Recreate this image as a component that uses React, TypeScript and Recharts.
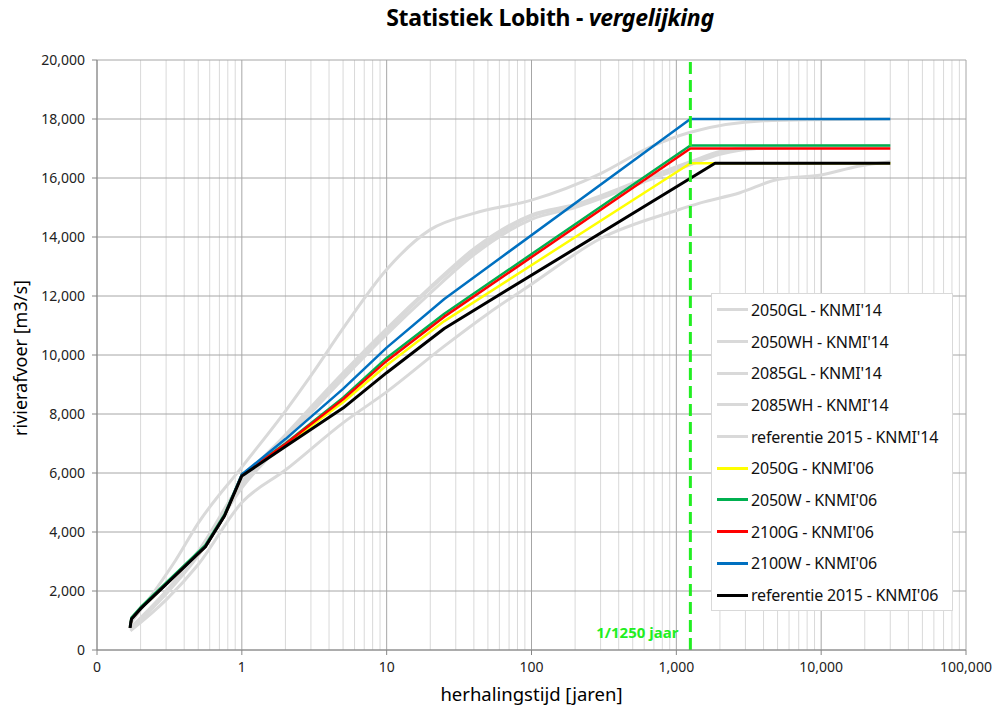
import React from 'react';
import { LineChart, Line, XAxis, YAxis, CartesianGrid, ReferenceLine, Legend, Label } from 'recharts';

// ---------- data ----------
// KNMI'14 scenarios (grey)
const gl2050X = [0.17, 0.3, 0.5, 1, 2, 5, 10, 20, 40, 100, 200, 660, 1250, 2000, 3600, 30000];
const gl2050Y = [700, 1900, 3200, 5500, 7100, 9200, 10700, 12100, 13400, 14600, 15000, 15950, 16450, 16800, 17000, 17050];
const wh2050X = [0.17, 0.3, 0.5, 1, 2, 5, 10, 20, 40, 100, 200, 660, 1250, 2000, 3600, 30000];
const wh2050Y = [750, 2000, 3350, 5700, 7300, 9400, 10900, 12300, 13600, 14750, 15100, 16050, 16550, 16900, 17050, 17100];
const gl2085X = [0.17, 0.3, 0.5, 1, 2, 5, 10, 20, 40, 100, 200, 660, 1250, 2000, 3600, 30000];
const gl2085Y = [720, 1950, 3300, 5600, 7200, 9300, 10800, 12250, 13500, 14700, 15050, 16000, 16500, 16850, 17000, 17080];
const wh2085X = [0.17, 0.25, 0.35, 0.5, 1, 2, 3, 5, 10, 20, 40, 100, 300, 660, 1250, 4600, 30000];
const wh2085Y = [900, 2000, 3050, 4300, 6200, 8100, 9300, 10900, 12900, 14250, 14800, 15250, 16150, 17050, 17550, 17950, 18000];
const ref14X = [0.17, 0.3, 0.5, 1, 2, 5, 10, 25, 50, 100, 300, 1000, 1450, 2750, 5000, 10000, 18000, 30000];
const ref14Y = [650, 1700, 2900, 5000, 6100, 7700, 8750, 10300, 11400, 12400, 13950, 14900, 15150, 15500, 15950, 16100, 16400, 16550];

// KNMI'06 scenarios (colour)
const g2050X = [0.169, 0.173, 0.2, 0.56, 0.76, 1, 2, 5, 10, 25, 1250, 30000];
const g2050Y = [750, 1050, 1400, 3500, 4550, 5920, 6950, 8400, 9650, 11150, 16500, 16500];
const w2050X = [0.169, 0.173, 0.2, 0.56, 0.76, 1, 2, 5, 10, 25, 1250, 30000];
const w2050Y = [800, 1100, 1450, 3550, 4600, 5950, 7000, 8550, 9900, 11400, 17100, 17100];
const g2100X = [0.169, 0.173, 0.2, 0.56, 0.76, 1, 2, 5, 10, 25, 1250, 30000];
const g2100Y = [750, 1050, 1400, 3500, 4550, 5930, 6980, 8500, 9800, 11300, 17000, 17000];
const w2100X = [0.169, 0.173, 0.2, 0.56, 0.76, 1, 2, 5, 10, 25, 1250, 30000];
const w2100Y = [750, 1050, 1400, 3500, 4550, 5950, 7150, 8850, 10250, 11900, 18000, 18000];
const ref06X = [0.169, 0.173, 0.2, 0.56, 0.76, 1, 2, 5, 10, 25, 1850, 30000];
const ref06Y = [750, 1050, 1400, 3500, 4550, 5900, 6900, 8200, 9400, 10900, 16500, 16500];

const xTicks = [0.1, 1, 10, 100, 1000, 10000, 100000];
const yTicks = [0, 2000, 4000, 6000, 8000, 10000, 12000, 14000, 16000, 18000, 20000];
const minorMultipliers = [2, 3, 4, 5, 6, 7, 8, 9];
const minorGrid = xTicks.slice(0, -1).flatMap((d) => minorMultipliers.map((m) => d * m));
const normYear = 1250;

const toPts = (xs: number[], ys: number[]) => xs.map((x, i) => ({ x, y: ys[i] }));

const GREY = '#d9d9d9';
const series = [
  { name: "2050GL - KNMI'14", data: toPts(gl2050X, gl2050Y), color: GREY, width: 3, type: 'monotone' },
  { name: "2050WH - KNMI'14", data: toPts(wh2050X, wh2050Y), color: GREY, width: 3, type: 'monotone' },
  { name: "2085GL - KNMI'14", data: toPts(gl2085X, gl2085Y), color: GREY, width: 3, type: 'monotone' },
  { name: "2085WH - KNMI'14", data: toPts(wh2085X, wh2085Y), color: GREY, width: 3, type: 'monotone' },
  { name: "referentie 2015 - KNMI'14", data: toPts(ref14X, ref14Y), color: GREY, width: 3, type: 'monotone' },
  { name: "2050G - KNMI'06", data: toPts(g2050X, g2050Y), color: '#ffff00', width: 2.5, type: 'linear' },
  { name: "2050W - KNMI'06", data: toPts(w2050X, w2050Y), color: '#00b050', width: 2.5, type: 'linear' },
  { name: "2100G - KNMI'06", data: toPts(g2100X, g2100Y), color: '#ff0000', width: 2.5, type: 'linear' },
  { name: "2100W - KNMI'06", data: toPts(w2100X, w2100Y), color: '#0070c0', width: 2.5, type: 'linear' },
  { name: "referentie 2015 - KNMI'06", data: toPts(ref06X, ref06Y), color: '#000000', width: 3, type: 'linear' },
];
const seriesOrder = series.map((s) => s.name);

const FONT = '"Noto Sans", "Open Sans", sans-serif';

const fmtX = (v: number) => (v < 1 ? '0' : v.toLocaleString('en-US'));
const fmtY = (v: number) => v.toLocaleString('en-US');

const minorGen = (props: any) => {
  const s = props?.xAxis?.scale;
  if (!s) return [];
  return minorGrid.map((v) => (typeof s === 'function' ? s(v) : s.map(v)));
};

const renderLegend = (props: any) => {
  const payload = [...(props.payload || [])].sort(
    (a: any, b: any) => seriesOrder.indexOf(a.value) - seriesOrder.indexOf(b.value)
  );
  return (
    <div
      style={{
        width: 242,
        height: 318,
        boxSizing: 'border-box',
        border: '1px solid #d9d9d9',
        background: '#ffffff',
        paddingTop: 0,
        fontFamily: FONT,
      }}
    >
      {payload.map((p: any, i: number) => (
        <div key={i} style={{ height: 31.7, display: 'flex', alignItems: 'center' }}>
          <div style={{ width: 31, height: 3, marginLeft: 5, background: p.color }} />
          <span style={{ marginLeft: 3, fontSize: 16, color: '#111', whiteSpace: 'nowrap', letterSpacing: -0.2 }}>{p.value}</span>
        </div>
      ))}
    </div>
  );
};

const YTitle = (props: any) => {
  const vb = props.viewBox;
  const cx = 20;
  const cy = vb.y + vb.height / 2 + 3;
  return (
    <text x={cx} y={cy} transform={`rotate(-90, ${cx}, ${cy})`} textAnchor="middle" dominantBaseline="central"
      fontSize={18} fill="#000" fontFamily={FONT}>
      rivierafvoer [m3/s]
    </text>
  );
};

const XTitle = (props: any) => {
  const vb = props.viewBox;
  return (
    <text x={vb.x + vb.width / 2} y={693} textAnchor="middle" dominantBaseline="central"
      fontSize={18.5} fill="#000" fontFamily={FONT}>
      herhalingstijd [jaren]
    </text>
  );
};

export default function App() {
  return (
    <div style={{ position: 'absolute', left: 0, top: 0, width: 994, height: 713, background: '#fff', fontFamily: FONT }}>
      <div style={{ position: 'absolute', left: 0, width: 1100, top: 1, textAlign: 'center', fontSize: 23, fontWeight: 'bold', color: '#000', zIndex: 2, letterSpacing: -0.3 }}>
        Statistiek Lobith - <i>vergelijking</i>
      </div>
      <LineChart width={994} height={713} margin={{ top: 60, right: 28, bottom: 0, left: 0 }} style={{ fontFamily: FONT }}>
        <CartesianGrid horizontal={false} stroke="#d9d9d9" strokeWidth={1} verticalCoordinatesGenerator={minorGen} />
        <CartesianGrid stroke="#a6a6a6" strokeWidth={1} />
        <XAxis
          type="number"
          dataKey="x"
          scale="log"
          domain={[0.1, 100000]}
          ticks={xTicks}
          allowDataOverflow
          tickFormatter={fmtX}
          height={63}
          tickSize={5}
          tickMargin={7}
          stroke="#868686"
          tick={{ fill: '#222', fontSize: 14 }}
          interval={0}
        >
          <Label content={XTitle} />
        </XAxis>
        <YAxis
          type="number"
          domain={[0, 20000]}
          ticks={yTicks}
          tickFormatter={fmtY}
          width={97}
          tickSize={5}
          tickMargin={7}
          stroke="#868686"
          tick={{ fill: '#222', fontSize: 14 }}
          interval={0}
        >
          <Label content={YTitle} />
        </YAxis>
        {series.map((s) => (
          <Line
            key={s.name}
            name={s.name}
            data={s.data}
            dataKey="y"
            type={s.type as any}
            stroke={s.color}
            strokeWidth={s.width}
            dot={false}
            activeDot={false}
            isAnimationActive={false}
            strokeLinejoin="round"
          />
        ))}
        <ReferenceLine
          x={normYear}
          stroke="#22ee22"
          strokeWidth={3}
          strokeDasharray="12 6"
          label={{ value: '1/1250 jaar', position: 'insideBottomRight', offset: 12, fill: '#22ee22', fontSize: 15, fontWeight: 'bold' }}
        />
        <Legend
          layout="vertical"
          align="center"
          verticalAlign="middle"
          wrapperStyle={{ left: 711, top: 293, width: 242, height: 318 }}
          content={renderLegend}
        />
      </LineChart>
    </div>
  );
}
